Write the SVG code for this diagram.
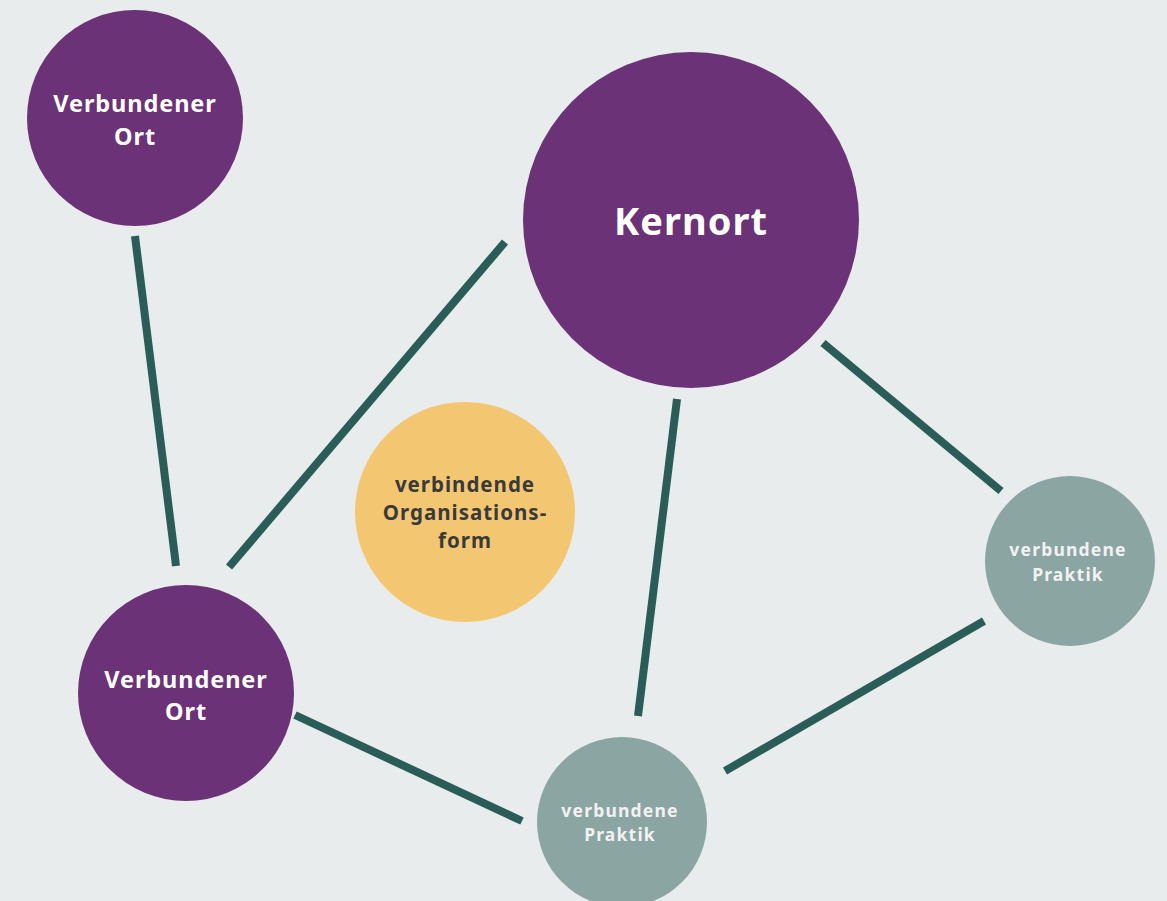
<svg xmlns="http://www.w3.org/2000/svg" width="1167" height="901" viewBox="0 0 1167 901">
  <style>
    .place { fill: #6b3278; }
    .practice { fill: #8ba5a2; }
    .org { fill: #f3c772; }
    .link line { stroke: #2a5c58; stroke-width: 8; }
    text { font-family: "Noto Sans", "DejaVu Sans", sans-serif; font-weight: bold; text-anchor: middle; }
    .lbl-place { fill: #ffffff; font-size: 23.5px; letter-spacing: 0.9px; }
    .lbl-core { fill: #ffffff; font-size: 38px; letter-spacing: 1px; }
    .lbl-org { fill: #3a3a3a; font-size: 20.5px; letter-spacing: 1px; }
    .lbl-practice { fill: #f2f2f2; font-size: 17.5px; letter-spacing: 1.2px; }
  </style>
  <rect width="1167" height="901" fill="#e8eced"/>

  <g id="connectors" class="link">
    <line x1="135" y1="236" x2="176" y2="566"/>
    <line x1="505" y1="242" x2="229" y2="567"/>
    <line x1="677" y1="399" x2="638" y2="716"/>
    <line x1="823" y1="343" x2="1001" y2="491"/>
    <line x1="984" y1="621" x2="725" y2="771"/>
    <line x1="295" y1="715" x2="522" y2="821"/>
  </g>

  <g id="ort-oben">
    <circle class="place" cx="135" cy="118" r="108"/>
    <text class="lbl-place" x="135" y="112">Verbundener</text>
    <text class="lbl-place" x="135" y="145">Ort</text>
  </g>

  <g id="kernort">
    <circle class="place" cx="691" cy="220" r="168"/>
    <text class="lbl-core" x="691" y="235">Kernort</text>
  </g>

  <g id="organisationsform">
    <circle class="org" cx="465" cy="512" r="110"/>
    <text class="lbl-org" x="465" y="492">verbindende</text>
    <text class="lbl-org" x="465" y="520">Organisations-</text>
    <text class="lbl-org" x="465" y="548">form</text>
  </g>

  <g id="praktik-rechts">
    <circle class="practice" cx="1070" cy="561" r="85"/>
    <text class="lbl-practice" x="1068" y="556">verbundene</text>
    <text class="lbl-practice" x="1068" y="581">Praktik</text>
  </g>

  <g id="ort-unten">
    <circle class="place" cx="186" cy="693" r="108"/>
    <text class="lbl-place" x="186" y="688">Verbundener</text>
    <text class="lbl-place" x="186" y="720">Ort</text>
  </g>

  <g id="praktik-unten">
    <circle class="practice" cx="622" cy="822" r="85"/>
    <text class="lbl-practice" x="620" y="817">verbundene</text>
    <text class="lbl-practice" x="620" y="841">Praktik</text>
  </g>
</svg>
